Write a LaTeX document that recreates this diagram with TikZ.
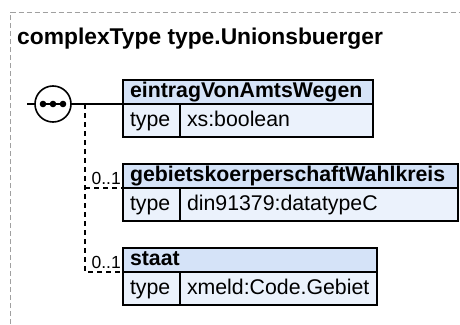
\documentclass[tikz,border=0pt]{standalone}
\usepackage{fontspec}
\setmainfont{Liberation Sans}
\usetikzlibrary{positioning}
\definecolor{hdrblue}{HTML}{D5E3F8}
\definecolor{rowblue}{HTML}{EBF2FC}
\definecolor{framegray}{HTML}{A0A0A0}
\newcommand{\elemfont}{\fontsize{21.3}{24}\selectfont}
\newcommand{\occfont}{\fontsize{17.5}{19}\selectfont}

\begin{document}
\begin{tikzpicture}[x=1pt,y=-1pt,
  hdr/.style={draw, line width=1.6pt, fill=hdrblue, outer sep=0pt, inner xsep=7pt, inner ysep=0pt,
    minimum height=24pt, text height=15pt, text depth=4pt, align=left, anchor=north west, font=\elemfont\bfseries},
  cell/.style={draw, line width=1.6pt, fill=rowblue, outer sep=0pt, inner xsep=7pt, inner ysep=0pt,
    minimum height=33pt, text height=15pt, text depth=4pt, align=left, anchor=north west, font=\elemfont},
  occ/.style={font=\occfont, inner sep=0pt},
  opt/.style={line width=1.3pt, dash pattern=on 5pt off 4pt}]
  \useasboundingbox (0,0) rectangle (460,324);

  % frame and title
  \draw[framegray, line width=1pt, dash pattern=on 5pt off 3pt] (10,324) -- (10,12.5) -- (460,12.5);
  \node[anchor=base west, inner sep=0pt, font=\fontsize{22.8}{26}\selectfont\bfseries] (title) at (17,44) {complexType type.Unionsbuerger};

  % elements
  \node[hdr, text width=236pt] (h1) at (123,80) {eintragVonAmtsWegen};
  \node[cell, text width=43pt] (t1) at (h1.south west) {type};
  \node[cell, text width=179pt] (v1) at (t1.north east) {xs:boolean};

  \node[hdr, text width=321pt] (h2) at (123,164) {gebietskoerperschaftWahlkreis};
  \node[cell, text width=43pt] (t2) at (h2.south west) {type};
  \node[cell, text width=264pt] (v2) at (t2.north east) {din91379:datatypeC};

  \node[hdr, text width=240pt] (h3) at (123,248) {staat};
  \node[cell, text width=43pt] (t3) at (h3.south west) {type};
  \node[cell, text width=183pt] (v3) at (t3.north east) {xmeld:Code.Gebiet};

  % sequence
  \coordinate (in) at (27,104);
  \coordinate (fork) at (85,104);
  \draw[line width=1.6pt] (in) -- (h1.south west);
  \node[draw, circle, line width=1.6pt, fill=white, minimum size=36pt, inner sep=0pt] (seq) at (53,104) {};
  \draw[line width=1.6pt] ([xshift=-10pt]seq.center) -- ([xshift=10pt]seq.center);
  \foreach \dx in {-10,0,10}
    \fill ([xshift=\dx pt]seq.center) circle (3.3pt);

  % optional elements
  \draw[opt] (fork) -- (fork |- h3.south west) -- (h3.south west);
  \draw[opt] (fork |- h2.south west) -- (h2.south west);
  \node[occ, above left=3pt and 2pt of h2.south west] (o2) {0..1};
  \node[occ, above left=3pt and 2pt of h3.south west] (o3) {0..1};
\end{tikzpicture}
\end{document}
